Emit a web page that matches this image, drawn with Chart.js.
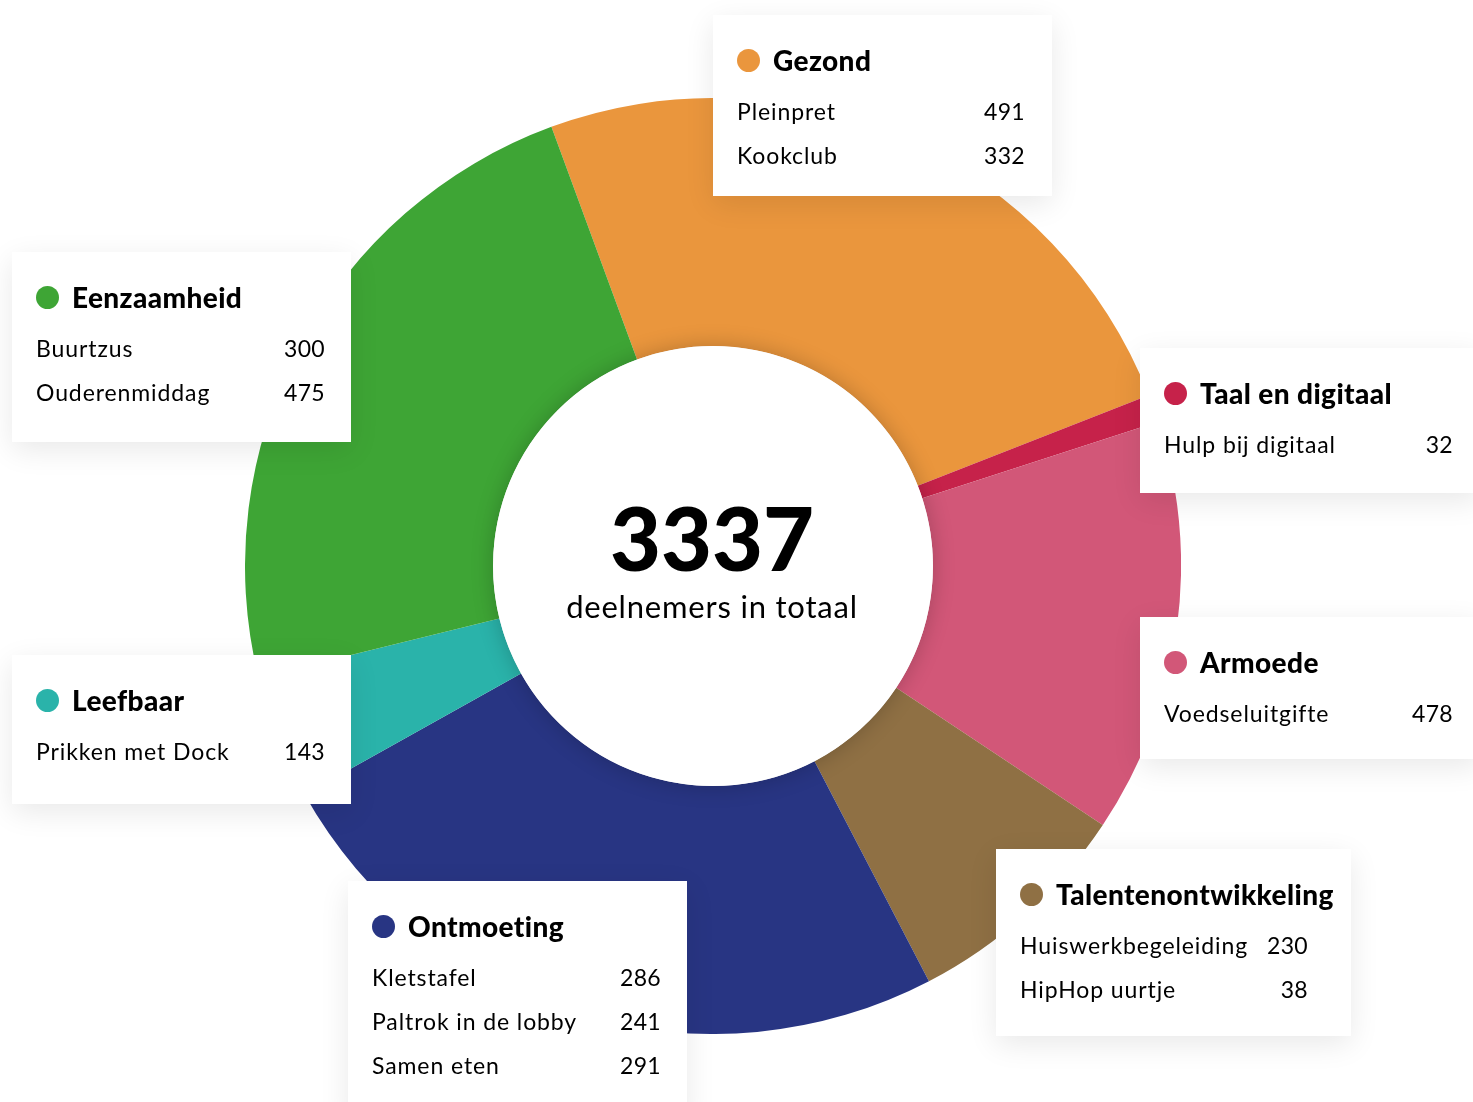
<!DOCTYPE html>
<html>
<head>
<meta charset="utf-8">
<script src="https://cdn.jsdelivr.net/npm/chart.js@4.4.0/dist/chart.umd.min.js"></script>
<style>
  html, body { margin: 0; padding: 0; background: #fff; }
  body { width: 1473px; height: 1102px; position: relative; overflow: hidden; font-family: "Lato", "Noto Sans", sans-serif; color: #000; }
  #wrap { position: absolute; left: 245px; top: 98px; width: 936px; height: 936px; }
  .card { position: absolute; background: #fff; box-shadow: 0 8px 28px rgba(0,0,0,0.09); box-sizing: border-box; padding: 31px 27px 0 24px; }
  .card .title { display: flex; align-items: center; height: 28px; line-height: 28px; font-weight: 900; font-size: 28px; letter-spacing: 0.4px; margin-bottom: 15px; white-space: nowrap; }
  .card .dot { width: 23px; height: 23px; border-radius: 50%; margin-right: 13px; position: relative; top: 0px; flex: none; }
  .card .row { display: flex; justify-content: space-between; font-size: 23px; letter-spacing: 0.9px; line-height: 44px; height: 44px; white-space: nowrap; }
  .card .row span:last-child { margin-left: 16px; letter-spacing: 0.3px; }
  #center { position: absolute; left: 492px; width: 440px; text-align: center; }
  #total { position: absolute; left: 0; width: 100%; top: 487px; font-size: 88px; font-weight: 900; line-height: 100px; }
  #sub { position: absolute; left: 0; width: 100%; top: 586px; font-size: 31px; letter-spacing: 0.8px; line-height: 40px; }
</style>
</head>
<body>
<div id="wrap"><canvas id="chart" width="936" height="936"></canvas></div>
<div id="center"><div id="total"></div><div id="sub">deelnemers in totaal</div></div>
<div id="cards"></div>
<script>
// categories in clockwise order, starting at the top-left
const categories = ["Gezond", "Taal en digitaal", "Armoede", "Talentenontwikkeling", "Ontmoeting", "Leefbaar", "Eenzaamheid"]
const colors = ["#EA963D", "#C6224A", "#D25778", "#8F7044", "#283583", "#2AB3AA", "#3EA535"]

// activities per category
const activityLabels = [
  ["Pleinpret", "Kookclub"],
  ["Hulp bij digitaal"],
  ["Voedseluitgifte"],
  ["Huiswerkbegeleiding", "HipHop uurtje"],
  ["Kletstafel", "Paltrok in de lobby", "Samen eten"],
  ["Prikken met Dock"],
  ["Buurtzus", "Ouderenmiddag"],
]
const activityValues = [
  [491, 332],
  [32],
  [478],
  [230, 38],
  [286, 241, 291],
  [143],
  [300, 475],
]

const centerLabel = "deelnemers in totaal"

const categoryTotals = activityValues.map((vals) => vals.reduce((a, b) => a + b, 0))
const grandTotal = categoryTotals.reduce((a, b) => a + b, 0)

// card placement: left, top, width, height, right padding
const cardBoxes = [
  [713, 15, 339, 181, 27],
  [1140, 348, 340, 145, 27],
  [1140, 617, 340, 142, 27],
  [996, 849, 355, 187, 43],
  [348, 881, 339, 240, 26],
  [12, 655, 339, 149, 26],
  [12, 252, 339, 190, 26],
]

// White centre disc with a soft shadow
const centerDisc = {
  id: "centerDisc",
  afterDatasetsDraw(chart) {
    const arc = chart.getDatasetMeta(0).data[0]
    if (!arc) return
    const { x, y, innerRadius } = arc.getProps(["x", "y", "innerRadius"], true)
    const ctx = chart.ctx
    ctx.save()
    ctx.shadowColor = "rgba(0,0,0,0.22)"
    ctx.shadowBlur = 22
    ctx.beginPath()
    ctx.arc(x, y, innerRadius, 0, Math.PI * 2)
    ctx.fillStyle = "#fff"
    ctx.fill()
    ctx.restore()
  },
}

new Chart(document.getElementById("chart"), {
  type: "doughnut",
  data: {
    labels: categories,
    datasets: [
      {
        data: categoryTotals,
        backgroundColor: colors,
        borderWidth: 0,
        hoverOffset: 0,
      },
    ],
  },
  options: {
    responsive: false,
    animation: false,
    rotation: -20.2,
    cutout: "47%",
    layout: { padding: 0 },
    plugins: {
      legend: { display: false },
      tooltip: { enabled: false },
    },
    events: [],
  },
  plugins: [centerDisc],
})

document.getElementById("total").textContent = grandTotal
document.getElementById("sub").textContent = centerLabel

// Legend cards
const cardsEl = document.getElementById("cards")
categories.forEach((cat, i) => {
  const [left, top, w, h, padR] = cardBoxes[i]
  const card = document.createElement("div")
  card.className = "card"
  card.style.left = left + "px"
  card.style.top = top + "px"
  card.style.width = w + "px"
  card.style.height = h + "px"
  card.style.paddingRight = (left + w > 1473 ? left + w - 1453 : padR) + "px"
  let html = `<div class="title"><span class="dot" style="background:${colors[i]}"></span>${cat}</div>`
  activityLabels[i].forEach((lab, j) => {
    html += `<div class="row"><span>${lab}</span><span>${activityValues[i][j]}</span></div>`
  })
  card.innerHTML = html
  cardsEl.appendChild(card)
})
</script>
</body>
</html>
